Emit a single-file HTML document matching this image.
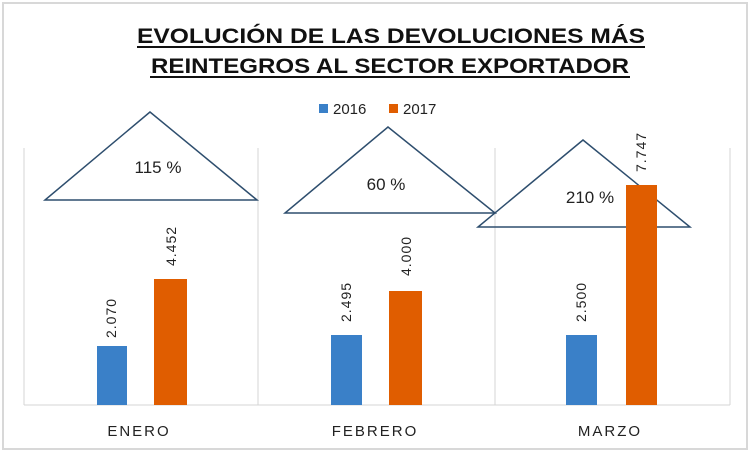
<!DOCTYPE html>
<html><head><meta charset="utf-8"><style>
body{margin:0;background:#fff}
svg{display:block}
</style></head><body>
<svg width="750" height="452" xmlns="http://www.w3.org/2000/svg" font-family="Liberation Sans, sans-serif">
<rect x="0" y="0" width="750" height="452" fill="#fff"/>
<rect x="3" y="3" width="744" height="446" fill="none" stroke="#d8d8d8" stroke-width="2"/>
<g font-weight="bold" font-size="21" fill="#111">
<text x="137" y="43" textLength="508" lengthAdjust="spacingAndGlyphs">EVOLUCIÓN DE LAS DEVOLUCIONES MÁS</text>
<text x="151" y="73" textLength="478" lengthAdjust="spacingAndGlyphs">REINTEGROS AL SECTOR EXPORTADOR</text>
</g>
<line x1="137" y1="47" x2="645" y2="47" stroke="#111" stroke-width="2"/>
<line x1="150" y1="77" x2="630" y2="77" stroke="#111" stroke-width="2"/>
<rect x="319" y="104" width="9" height="9" fill="#3a80c8"/>
<text x="333" y="114" font-size="15" fill="#222">2016</text>
<rect x="389" y="104" width="9" height="9" fill="#e05d00"/>
<text x="403" y="114" font-size="15" fill="#222">2017</text>
<g stroke="#d4d4d4" stroke-width="1">
<line x1="24" y1="148" x2="24" y2="405"/>
<line x1="258" y1="148" x2="258" y2="405"/>
<line x1="495" y1="148" x2="495" y2="405"/>
<line x1="730" y1="148" x2="730" y2="405"/>
<line x1="24" y1="405" x2="730" y2="405"/>
</g>
<g fill="none" stroke="#2e4e6e" stroke-width="1.5">
<polygon points="150,112 45,200 257,200"/>
<polygon points="388,127 285,213 495,213"/>
<polygon points="583,140 478,227 690,227"/>
</g>
<g font-size="17" fill="#222" text-anchor="middle">
<text x="158" y="173">115 %</text>
<text x="386" y="190">60 %</text>
<text x="590" y="203">210 %</text>
</g>
<rect x="97" y="346" width="30" height="59" fill="#3a80c8"/>
<rect x="154" y="279" width="33" height="126" fill="#e05d00"/>
<rect x="331" y="335" width="31" height="70" fill="#3a80c8"/>
<rect x="389" y="291" width="33" height="114" fill="#e05d00"/>
<rect x="566" y="335" width="31" height="70" fill="#3a80c8"/>
<rect x="626" y="185" width="31" height="220" fill="#e05d00"/>
<g font-size="14" fill="#222" text-anchor="middle" letter-spacing="1">
<text transform="translate(116,318) rotate(-90)">2.070</text>
<text transform="translate(176,246) rotate(-90)">4.452</text>
<text transform="translate(351,302) rotate(-90)">2.495</text>
<text transform="translate(411,256) rotate(-90)">4.000</text>
<text transform="translate(586,302) rotate(-90)">2.500</text>
<text transform="translate(646,152) rotate(-90)">7.747</text>
</g>
<g font-size="15" fill="#222" text-anchor="middle" letter-spacing="2">
<text x="139" y="436">ENERO</text>
<text x="375" y="436">FEBRERO</text>
<text x="610" y="436">MARZO</text>
</g>
</svg>
</body></html>
